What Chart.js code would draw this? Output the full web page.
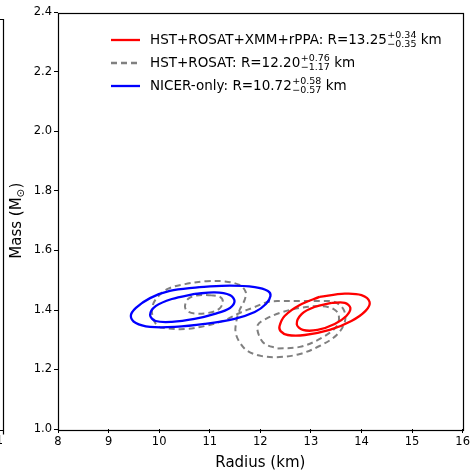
<!DOCTYPE html>
<html>
<head>
<meta charset="utf-8">
<script src="https://cdn.jsdelivr.net/npm/chart.js@4.4.0/dist/chart.umd.min.js"></script>
<style>
html, body { margin: 0; padding: 0; background: #fff; }
#wrap { width: 472px; height: 473px; }
</style>
</head>
<body>
<div id="wrap"><canvas id="myChart" width="472" height="473"></canvas></div>
<script>
// axis ticks
const xTicks = [8, 9, 10, 11, 12, 13, 14, 15, 16];
const yTicks = [1.0, 1.2, 1.4, 1.6, 1.8, 2.0, 2.2, 2.4];

// legend text
const legendNames = ['HST+ROSAT+XMM+rPPA', 'HST+ROSAT', 'NICER-only'];
const legendR = ['13.25', '12.20', '10.72'];
const legendUp = ['+0.34', '+0.76', '+0.58'];
const legendDown = ['\u22120.35', '\u22121.17', '\u22120.57'];
const legendColors = ['red', 'gray', 'blue'];

// contours: [radius (km), mass (Msun)]
const redOuter = [[13.17,1.444],[13.67,1.455],[14.00,1.450],[14.16,1.427],[14.08,1.397],[13.80,1.363],[13.37,1.333],[12.88,1.316],[12.54,1.316],[12.40,1.329],[12.38,1.346],[12.48,1.380],[12.78,1.417],[13.17,1.444]];
const redInner = [[13.41,1.424],[13.67,1.424],[13.78,1.407],[13.70,1.380],[13.47,1.353],[13.13,1.333],[12.84,1.333],[12.72,1.352],[12.82,1.387],[13.07,1.410],[13.41,1.424]];
const blueOuter = [[10.80,1.477],[11.40,1.482],[11.89,1.477],[12.15,1.464],[12.20,1.447],[12.11,1.420],[11.89,1.393],[11.49,1.370],[10.90,1.353],[10.31,1.343],[9.82,1.343],[9.54,1.356],[9.44,1.380],[9.54,1.407],[9.82,1.440],[10.21,1.464],[10.80,1.477]];
const blueInner = [[10.70,1.454],[11.10,1.459],[11.40,1.450],[11.49,1.430],[11.40,1.407],[11.10,1.387],[10.70,1.370],[10.25,1.360],[9.93,1.363],[9.82,1.383],[9.93,1.413],[10.25,1.437],[10.70,1.454]];
const grayOuter = [[10.90,1.497],[11.30,1.496],[11.59,1.484],[11.71,1.461],[11.69,1.434],[11.59,1.400],[11.53,1.366],[11.51,1.326],[11.59,1.292],[11.75,1.262],[12.03,1.245],[12.38,1.242],[12.78,1.252],[13.17,1.279],[13.51,1.316],[13.67,1.360],[13.65,1.400],[13.47,1.427],[13.17,1.430],[12.78,1.430],[12.38,1.430],[12.15,1.427],[11.89,1.410],[11.59,1.390],[11.30,1.366],[10.90,1.346],[10.51,1.336],[10.11,1.339],[9.97,1.346],[9.88,1.373],[9.86,1.407],[9.95,1.440],[10.17,1.471],[10.51,1.487],[10.90,1.497]];
const grayInnerLeft = [[11.00,1.450],[11.20,1.444],[11.26,1.427],[11.18,1.403],[10.96,1.390],[10.70,1.388],[10.55,1.397],[10.51,1.413],[10.57,1.437],[10.74,1.449],[11.00,1.450]];
const grayInnerRight = [[12.34,1.271],[12.78,1.276],[13.21,1.306],[13.51,1.346],[13.55,1.383],[13.45,1.403],[13.21,1.413],[12.78,1.407],[12.38,1.390],[12.11,1.370],[11.95,1.350],[11.97,1.316],[12.09,1.286],[12.34,1.271]];

const FONT = '"DejaVu Sans", sans-serif';

function contour(label, pts, color, dashed, order) {
    return {
        label: label,
        data: pts.map(p => ({ x: p[0], y: p[1] })),
        showLine: true,
        borderColor: color,
        borderWidth: dashed ? 2 : 2.3,
        borderDash: dashed ? [6, 4] : [],
        pointRadius: 0,
        tension: 0.35,
        fill: false,
        order: order
    };
}

// frame, axis titles, legend and the cut-off neighbour panel
const overlay = {
    id: 'overlay',
    afterDraw(chart) {
        const ctx = chart.ctx;
        const a = chart.chartArea;
        ctx.save();
        ctx.strokeStyle = '#000';
        ctx.lineWidth = 1.2;
        ctx.strokeRect(Math.round(a.left) + 0.5, Math.round(a.top) + 0.5, Math.round(a.right - a.left), Math.round(a.bottom - a.top));

        // piece of the panel on the left
        ctx.beginPath();
        ctx.moveTo(0, 19.5); ctx.lineTo(3.5, 19.5); ctx.lineTo(3.5, 434.5);
        ctx.moveTo(0, 430.5); ctx.lineTo(3.5, 430.5);
        ctx.stroke();
        ctx.fillStyle = '#000';
        ctx.font = '11.5px ' + FONT;
        ctx.textAlign = 'right';
        ctx.textBaseline = 'middle';
        ctx.fillText('1', 3, 441);

        // x title
        ctx.font = '15px ' + FONT;
        ctx.textAlign = 'center';
        ctx.fillText('Radius (km)', (a.left + a.right) / 2, 463);

        // y title with subscript sun
        ctx.save();
        ctx.translate(17, (a.top + a.bottom) / 2);
        ctx.rotate(-Math.PI / 2);
        ctx.textAlign = 'left';
        ctx.font = '15px ' + FONT;
        const t1 = 'Mass (M', t3 = ')';
        const w1 = ctx.measureText(t1).width, w3 = ctx.measureText(t3).width;
        ctx.font = '10.5px ' + FONT;
        const w2 = ctx.measureText('\u2299').width;
        let x0 = -(w1 + w2 + w3) / 2;
        ctx.font = '15px ' + FONT;
        ctx.fillText(t1, x0, 0);
        ctx.font = '10.5px ' + FONT;
        ctx.fillText('\u2299', x0 + w1, 4);
        ctx.font = '15px ' + FONT;
        ctx.fillText(t3, x0 + w1 + w2, 0);
        ctx.restore();

        // legend
        const rows = [40, 63, 86];
        legendNames.forEach((n, i) => {
            const y = rows[i];
            ctx.strokeStyle = legendColors[i];
            ctx.lineWidth = 2.3;
            ctx.setLineDash(i === 1 ? [6, 4] : []);
            ctx.beginPath();
            ctx.moveTo(111, y); ctx.lineTo(140, y);
            ctx.stroke();
            ctx.setLineDash([]);
            ctx.fillStyle = '#000';
            ctx.textAlign = 'left';
            ctx.textBaseline = 'middle';
            ctx.font = '13.5px ' + FONT;
            const main = n + ': R=' + legendR[i];
            ctx.fillText(main, 150, y);
            let x = 150 + ctx.measureText(main).width + 0.5;
            ctx.font = '9.5px ' + FONT;
            ctx.fillText(legendUp[i], x, y - 4.5);
            ctx.fillText(legendDown[i], x, y + 5);
            x += Math.max(ctx.measureText(legendUp[i]).width, ctx.measureText(legendDown[i]).width);
            ctx.font = '13.5px ' + FONT;
            ctx.fillText(' km', x, y);
        });
        ctx.restore();
    }
};

const axisCommon = {
    type: 'linear',
    grid: { drawOnChartArea: false, drawTicks: true, tickLength: 4, color: '#000', lineWidth: 1 },
    border: { display: false },
    ticks: { color: '#000', font: { family: FONT, size: 11.5 }, padding: 2, autoSkip: false, maxRotation: 0 }
};

const myChartRef = document.getElementById('myChart').getContext('2d');
new Chart(myChartRef, {
    type: 'scatter',
    data: {
        datasets: [
            contour('HST+ROSAT+XMM+rPPA', redOuter, 'red', false, 1),
            contour('HST+ROSAT+XMM+rPPA inner', redInner, 'red', false, 1),
            contour('HST+ROSAT', grayOuter, 'gray', true, 3),
            contour('HST+ROSAT inner L', grayInnerLeft, 'gray', true, 3),
            contour('HST+ROSAT inner R', grayInnerRight, 'gray', true, 3),
            contour('NICER-only', blueOuter, 'blue', false, 2),
            contour('NICER-only inner', blueInner, 'blue', false, 2)
        ]
    },
    options: {
        responsive: false,
        animation: false,
        devicePixelRatio: 1,
        layout: { padding: { top: 12.5, right: 9, left: 0, bottom: 0 } },
        plugins: { legend: { display: false }, tooltip: { enabled: false } },
        scales: {
            x: Object.assign({}, axisCommon, {
                min: 8, max: 16,
                afterBuildTicks: s => { s.ticks = xTicks.map(v => ({ value: v })); },
                afterFit: s => { s.height = 44; },
                ticks: Object.assign({}, axisCommon.ticks, { callback: v => String(v) })
            }),
            y: Object.assign({}, axisCommon, {
                min: 1.0, max: 2.4,
                afterBuildTicks: s => { s.ticks = yTicks.map(v => ({ value: v })); },
                afterFit: s => { s.width = 58; },
                ticks: Object.assign({}, axisCommon.ticks, { callback: v => v.toFixed(1) })
            })
        }
    },
    plugins: [overlay]
});
</script>
</body>
</html>
